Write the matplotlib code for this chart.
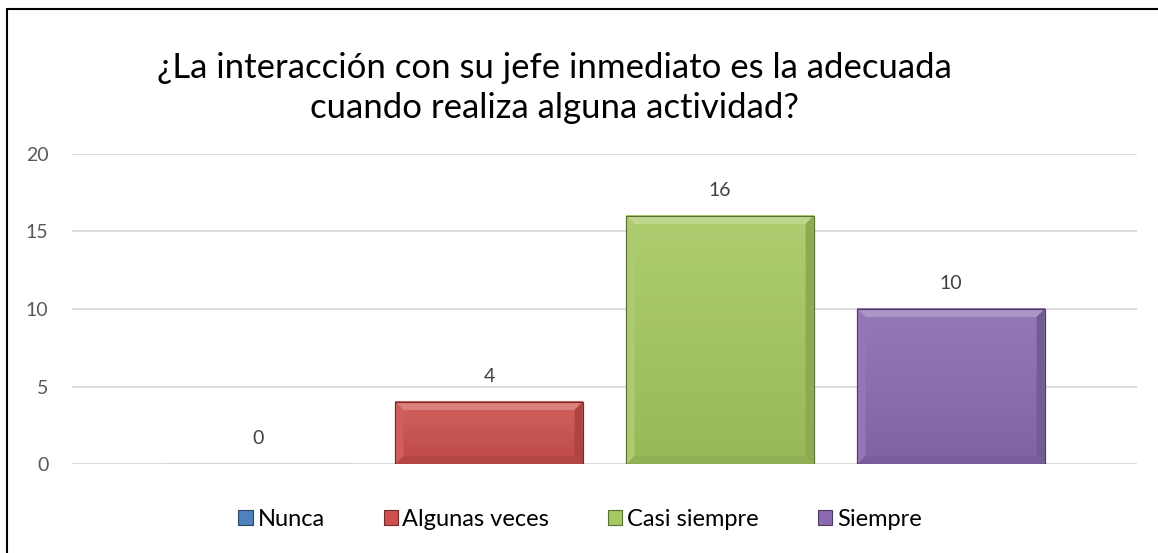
import numpy as np
import matplotlib.pyplot as plt
from matplotlib.patches import Polygon, Rectangle
from matplotlib.colors import to_rgb

title = "¿La interacción con su jefe inmediato es la adecuada\ncuando realiza alguna actividad?"
series = ["Nunca", "Algunas veces", "Casi siempre", "Siempre"]
counts = [0, 4, 16, 10]
colors = ["#4F81BD", "#CD504C", "#A6C860", "#8A6BB0"]
yticks = [0, 5, 10, 15, 20]

plt.rcParams['font.family'] = ['Lato', 'DejaVu Sans']


def mix(c, other, t):
    c = np.array(to_rgb(c))
    o = np.array(to_rgb(other))
    return tuple(c * (1 - t) + o * t)


fig = plt.figure(figsize=(11.58, 5.53), dpi=100)
ax = fig.add_axes([72 / 1158, 1 - 464 / 553, 1065 / 1158, 310 / 553])

ax.set_xlim(-2.305, 2.305)
ax.set_ylim(0, 20)
ax.set_yticks(yticks)
ax.set_xticks([])
ax.yaxis.grid(True, color="#D9D9D9", linewidth=1.3)
ax.set_axisbelow(True)
for s in ax.spines.values():
    s.set_visible(False)
ax.tick_params(axis="y", length=0, pad=17, labelsize=14, labelcolor="#595959")

# one category, four series clustered around x=0
offsets = np.arange(len(series)) - (len(series) - 1) / 2
width = 0.81
bev_px = 8

p0 = ax.transData.transform((0, 0))
p1 = ax.transData.transform((1, 1))
ux = bev_px / (p1[0] - p0[0])
uy = bev_px / (p1[1] - p0[1])

handles = []
for name, x, v, c in zip(series, offsets, counts, colors):
    left, right = x - width / 2, x + width / 2
    h = ax.bar(x, v, width=width, color=c, edgecolor=mix(c, "black", 0.45),
               linewidth=0.8, label=name, zorder=2)
    handles.append(h)
    if v > 0:
        # vertical shading inside the bar
        grad = np.linspace(0, 1, 64).reshape(-1, 1)
        top_c = np.array(mix(c, "white", 0.1))
        bot_c = np.array(mix(c, "black", 0.08))
        img = top_c * (1 - grad[..., None]) + bot_c * grad[..., None]
        ax.imshow(img, extent=(left, right, 0, v), origin="upper",
                  aspect="auto", zorder=2.1)
        by = min(uy, v / 2)
        bevels = [
            ([(left, v), (right, v), (right - ux, v - by), (left + ux, v - by)], mix(c, "white", 0.28)),
            ([(left, 0), (right, 0), (right - ux, by), (left + ux, by)], mix(c, "black", 0.12)),
            ([(left, 0), (left, v), (left + ux, v - by), (left + ux, by)], mix(c, "white", 0.08)),
            ([(right, 0), (right, v), (right - ux, v - by), (right - ux, by)], mix(c, "black", 0.15)),
        ]
        for pts, fc in bevels:
            ax.add_patch(Polygon(pts, closed=True, facecolor=fc, edgecolor="none", zorder=2.2))
        ax.add_patch(Rectangle((left, 0), width, v, fill=False,
                               edgecolor=mix(c, "black", 0.45), linewidth=0.8, zorder=2.3))
    ax.annotate(str(v), (x, v), xytext=(0, 12), textcoords="offset points",
                ha="center", va="bottom", fontsize=14, color="#404040")

ax.set_xlim(-2.305, 2.305)
ax.set_ylim(0, 20)

fig.text(554 / 1158, 1 - 88 / 553, title, ha="center", va="center",
         fontsize=25, color="#000000", linespacing=1.32)

fig.legend(handles=handles, labels=series, loc="center", bbox_to_anchor=(580 / 1158, 1 - 519 / 553),
           ncol=4, frameon=False, fontsize=17, handlelength=0.6, handleheight=0.6,
           handletextpad=0.2, columnspacing=2.5)

fig.patches.append(Rectangle((7.5 / 1158, -0.05), 1.2, 1 - 9 / 553 + 0.05,
                             transform=fig.transFigure, fill=False,
                             edgecolor="black", linewidth=1.5))

fig.savefig("out.png", dpi=100, facecolor="white")
